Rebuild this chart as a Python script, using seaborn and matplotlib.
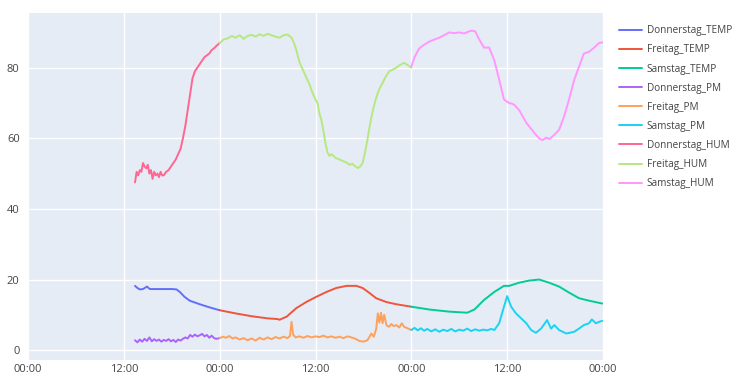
import pandas as pd
import matplotlib
matplotlib.use('Agg')
import matplotlib.pyplot as plt
import matplotlib.dates as mdates
import seaborn as sns

# hours counted from Thursday 00:00
do_temp_h = [13.4, 13.7, 14.0, 14.4, 14.9, 15.25, 16.0, 17.0, 18.0, 18.6, 19.0, 19.6, 20.25, 21.5, 22.75, 24.0]
do_temp = [18.2, 17.6, 17.2, 17.3, 18.0, 17.3, 17.3, 17.3, 17.3, 17.2, 16.5, 15.1, 14.0, 13.0, 12.1, 11.3]

fr_temp_h = [24.0, 26.0, 28.0, 30.0, 31.25, 31.5, 32.4, 33.6, 34.9, 36.1, 37.4, 38.6, 39.9, 41.1, 41.9,
             42.75, 43.6, 44.9, 46.1, 48.0]
fr_temp = [11.3, 10.4, 9.6, 9.0, 8.8, 8.6, 9.5, 11.9, 13.7, 15.1, 16.5, 17.6, 18.2, 18.2, 17.6,
           16.2, 14.7, 13.6, 13.0, 12.3]

sa_temp_h = [48.0, 50.25, 52.75, 55.0, 55.9, 57.1, 58.4, 59.6, 60.25, 61.5, 62.75, 64.0, 65.25, 66.5,
             67.75, 69.0, 70.25, 71.9]
sa_temp = [12.3, 11.5, 10.9, 10.6, 11.5, 14.2, 16.5, 18.2, 18.2, 19.1, 19.7, 20.0, 19.1, 18.0,
           16.3, 14.7, 14.0, 13.2]

do_pm_h = [13.4, 13.7, 14.0, 14.3, 14.6, 14.9, 15.2, 15.5, 15.8, 16.1, 16.4, 16.7, 17.0, 17.3, 17.6,
           17.9, 18.2, 18.5, 18.8, 19.1, 19.4, 19.7, 20.0, 20.3, 20.6, 20.9, 21.2, 21.5, 21.8, 22.1,
           22.4, 22.7, 23.0, 23.3, 23.6, 24.0]
do_pm = [2.8, 2.2, 3.0, 2.4, 3.2, 2.6, 3.6, 2.5, 3.1, 2.6, 3.0, 2.4, 2.9, 2.6, 3.1,
         2.5, 2.9, 2.3, 3.0, 2.7, 3.2, 3.6, 3.3, 4.3, 3.8, 4.4, 3.9, 4.2, 4.6, 3.9,
         4.3, 3.5, 4.1, 3.4, 3.2, 3.4]

fr_pm_h = [24.0, 24.4, 24.8, 25.2, 25.6, 26.0, 26.5, 27.0, 27.5, 28.0, 28.5, 29.0, 29.5, 30.0, 30.5,
           31.0, 31.5, 32.0, 32.5, 32.8, 33.0, 33.2, 33.5, 34.0, 34.5, 35.0, 35.5, 36.0, 36.5, 37.0,
           37.5, 38.0, 38.5, 39.0, 39.5, 40.0, 40.5, 41.0, 41.5, 42.0, 42.5, 43.0, 43.3, 43.6, 43.8,
           44.0, 44.2, 44.4, 44.6, 44.9, 45.2, 45.5, 45.8, 46.1, 46.5, 46.8, 47.1, 47.5, 48.0]
fr_pm = [3.4, 3.8, 3.5, 4.0, 3.3, 3.6, 3.0, 3.4, 2.8, 3.3, 2.7, 3.5, 3.0, 3.6, 3.1,
         3.7, 3.3, 3.8, 3.4, 4.0, 8.0, 4.4, 3.6, 3.9, 3.5, 4.0, 3.6, 3.9, 3.7, 4.1,
         3.6, 3.9, 3.5, 3.8, 3.4, 3.9, 3.6, 3.2, 2.6, 2.4, 2.8, 4.7, 3.8, 6.0, 10.4,
         7.8, 10.6, 7.6, 10.0, 7.0, 6.6, 7.4, 6.8, 7.1, 6.4, 7.6, 6.6, 6.2, 5.7]

sa_pm_h = [48.0, 48.4, 48.8, 49.2, 49.6, 50.0, 50.5, 51.0, 51.5, 52.0, 52.5, 53.0, 53.5, 54.0, 54.5,
           55.0, 55.5, 56.0, 56.5, 57.0, 57.5, 58.0, 58.4, 59.0, 59.6, 60.0, 60.5, 61.1, 61.75, 62.4,
           63.0, 63.6, 64.25, 65.0, 65.5, 65.9, 66.5, 67.4, 68.4, 69.0, 69.6, 70.25, 70.6, 71.1, 71.5, 71.9]
sa_pm = [5.7, 6.3, 5.6, 6.2, 5.5, 6.0, 5.3, 5.9, 5.2, 5.8, 5.4, 6.0, 5.3, 5.8, 5.5,
         6.1, 5.4, 5.9, 5.5, 5.8, 5.6, 6.0, 5.7, 7.6, 12.3, 15.3, 12.3, 10.4, 9.0, 7.6,
         5.7, 4.9, 6.1, 8.5, 6.1, 7.1, 5.7, 4.7, 5.2, 6.1, 7.1, 7.6, 8.7, 7.6, 8.0, 8.3]

do_hum_h = [13.4, 13.6, 13.8, 14.0, 14.2, 14.4, 14.6, 14.8, 15.0, 15.2, 15.4, 15.6, 15.8, 16.0, 16.2,
            16.4, 16.6, 16.8, 17.0, 17.3, 17.6, 17.9, 18.2, 18.5, 18.8, 19.1, 19.4, 19.7, 20.0, 20.3,
            20.6, 20.9, 21.2, 21.5, 21.8, 22.1, 22.4, 22.7, 23.0, 23.3, 23.6, 24.0]
do_hum = [47.5, 50.5, 49.5, 51.0, 50.5, 53.0, 52.0, 51.5, 52.5, 50.0, 51.0, 48.5, 50.5, 49.5, 50.0,
          49.0, 50.5, 49.5, 49.5, 50.5, 51.0, 52.0, 53.0, 54.0, 55.5, 57.0, 60.0, 63.5, 68.0, 72.5,
          77.0, 79.0, 80.0, 81.0, 82.0, 83.0, 83.5, 84.0, 85.0, 85.5, 86.2, 87.0]

fr_hum_h = [24.0, 24.5, 25.0, 25.5, 26.0, 26.5, 27.0, 27.5, 28.0, 28.5, 29.0, 29.5, 30.0, 30.5, 31.0,
            31.5, 32.0, 32.5, 33.0, 33.3, 33.6, 34.0, 34.4, 34.9, 35.3, 35.6, 36.0, 36.25, 36.5, 36.75,
            37.0, 37.25, 37.5, 37.75, 38.0, 38.5, 39.0, 39.5, 40.0, 40.25, 40.6, 41.0, 41.3, 41.6, 41.9,
            42.2, 42.5, 42.75, 43.0, 43.3, 43.6, 44.0, 44.4, 44.8, 45.25, 45.7, 46.1, 46.6, 47.1, 47.5, 48.0]
fr_hum = [87.0, 88.0, 88.3, 89.0, 88.5, 89.2, 88.2, 89.0, 89.3, 88.8, 89.5, 89.0, 89.6, 89.2, 88.8,
          88.5, 89.2, 89.4, 88.5, 87.0, 85.0, 81.5, 79.5, 77.0, 75.0, 73.0, 71.0, 70.0, 67.0, 65.0,
          62.0, 58.5, 56.0, 55.0, 55.5, 54.5, 54.0, 53.5, 53.0, 52.5, 52.8, 52.0, 51.6, 52.0, 53.0,
          56.0, 59.5, 63.0, 66.0, 69.0, 71.5, 74.0, 75.7, 77.5, 79.0, 79.5, 80.0, 80.8, 81.4, 80.8, 80.0]

sa_hum_h = [48.0, 48.4, 49.0, 49.6, 50.25, 50.9, 51.5, 52.1, 52.75, 53.4, 54.0, 54.6, 55.25, 55.6, 56.0,
            56.5, 57.1, 57.75, 58.4, 59.0, 59.6, 59.9, 60.25, 60.6, 60.9, 61.5, 62.0, 62.4, 63.1, 63.6,
            64.0, 64.4, 64.9, 65.3, 65.6, 66.0, 66.5, 67.1, 67.75, 68.4, 69.0, 69.6, 70.25, 70.9, 71.5, 72.0]
sa_hum = [80.3, 83.0, 85.5, 86.5, 87.4, 88.0, 88.5, 89.2, 90.0, 89.8, 90.0, 89.7, 90.3, 90.5, 90.3,
          88.0, 85.7, 85.7, 82.0, 76.6, 71.0, 70.5, 70.0, 69.8, 69.5, 68.0, 66.0, 64.4, 62.4, 61.0,
          60.0, 59.5, 60.2, 59.8, 60.4, 61.2, 62.4, 66.0, 71.0, 76.6, 80.3, 84.0, 84.5, 85.7, 87.0, 87.2]

series = {
    'Donnerstag_TEMP': (do_temp_h, do_temp),
    'Freitag_TEMP': (fr_temp_h, fr_temp),
    'Samstag_TEMP': (sa_temp_h, sa_temp),
    'Donnerstag_PM': (do_pm_h, do_pm),
    'Freitag_PM': (fr_pm_h, fr_pm),
    'Samstag_PM': (sa_pm_h, sa_pm),
    'Donnerstag_HUM': (do_hum_h, do_hum),
    'Freitag_HUM': (fr_hum_h, fr_hum),
    'Samstag_HUM': (sa_hum_h, sa_hum),
}
colors = ['#636efa', '#EF553B', '#00cc96', '#ab63fa', '#FFA15A', '#19d3f3', '#FF6692', '#B6E880', '#FF97FF']

start = pd.Timestamp('2021-06-03 00:00')
frames = []
for name, (hrs, vals) in series.items():
    frames.append(pd.DataFrame({'time': start + pd.to_timedelta(hrs, unit='h'),
                                'value': vals, 'series': name}))
df = pd.concat(frames, ignore_index=True)

sns.set_style('darkgrid', {'axes.facecolor': '#E5ECF6', 'grid.color': 'white'})
plt.rcParams['font.family'] = ['Open Sans', 'DejaVu Sans']

fig = plt.figure(figsize=(7.36, 3.74), dpi=100)
ax = fig.add_axes([28 / 736, 14 / 374, 575 / 736, 347 / 374])
sns.lineplot(data=df, x='time', y='value', hue='series', hue_order=list(series.keys()),
             palette=colors, estimator=None, sort=False, linewidth=1.4, ax=ax)

ax.set_xlim(start, start + pd.Timedelta(hours=72))
ax.set_ylim(-2.8, 95.5)
ax.set_yticks([0, 20, 40, 60, 80])
ax.xaxis.set_major_locator(mdates.HourLocator(byhour=[0, 12]))
ax.xaxis.set_major_formatter(mdates.DateFormatter('%H:%M'))
ax.grid(True, color='white', linewidth=1)
ax.tick_params(axis='both', length=0, labelsize=8, colors='#444444', pad=3)
ax.tick_params(axis='y', pad=6)
ax.set_xlabel('')
ax.set_ylabel('')
for s in ax.spines.values():
    s.set_visible(False)

sns.move_legend(ax, 'upper left', bbox_to_anchor=(1.02, 0.976), frameon=False, title=None,
                fontsize=7.2, handlelength=2.3, handletextpad=0.5, labelspacing=0.81,
                borderaxespad=0)
for txt in ax.get_legend().get_texts():
    txt.set_color('#444444')

fig.savefig('out.png', dpi=100)
